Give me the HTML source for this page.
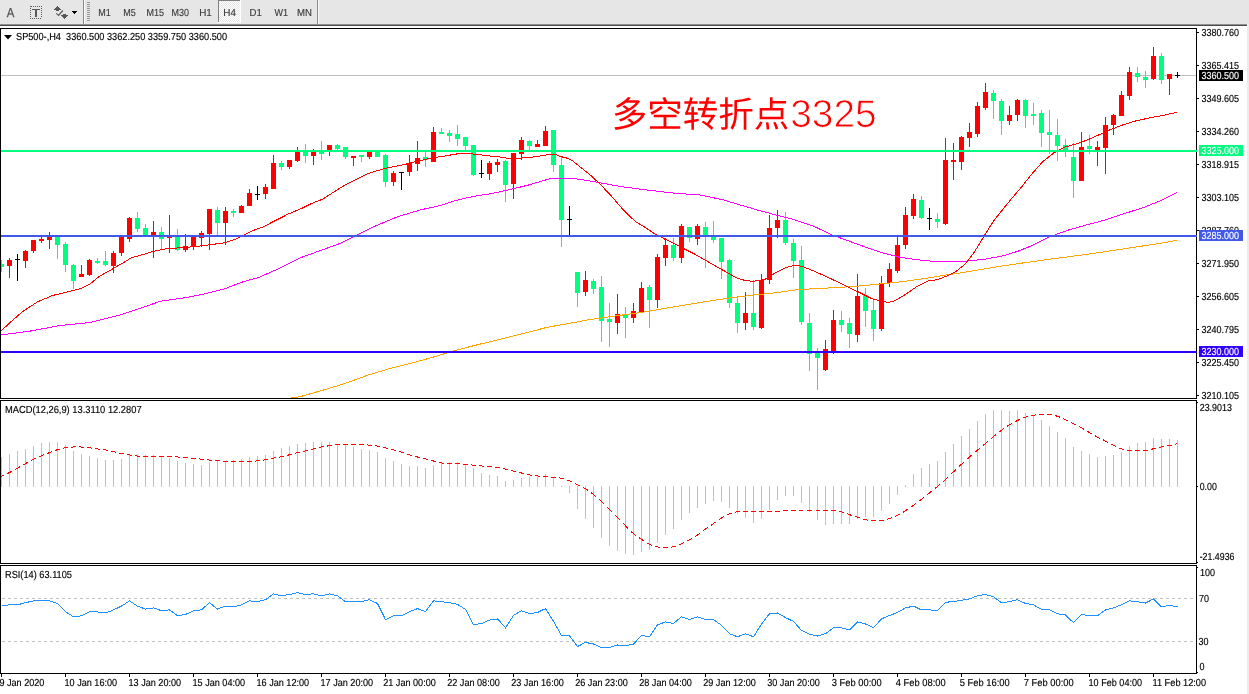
<!DOCTYPE html>
<html><head><meta charset="utf-8"><title>SP500-,H4</title>
<style>
html,body{margin:0;padding:0;background:#fff;width:1249px;height:694px;overflow:hidden;font-family:"Liberation Sans",sans-serif}
svg text{font-family:"Liberation Sans",sans-serif}
</style></head><body>
<svg width="1249" height="694" viewBox="0 0 1249 694" style="position:absolute;left:0;top:0;will-change:transform;text-rendering:geometricPrecision;font-family:'Liberation Sans',sans-serif" shape-rendering="crispEdges">
<defs><pattern id="chk" width="2" height="2" patternUnits="userSpaceOnUse"><rect width="2" height="2" fill="#ffffff"/><rect width="1" height="1" fill="#e6e6e6"/><rect x="1" y="1" width="1" height="1" fill="#e6e6e6"/></pattern>
<clipPath id="cm"><rect x="1" y="29" width="1195" height="369"/></clipPath></defs>
<rect x="0" y="0" width="1249" height="24" fill="#e6e6e6"/>
<rect x="0" y="24" width="1247" height="1" fill="#909090"/>
<rect x="0" y="25" width="1247" height="1" fill="#4c4c4c"/>
<rect x="0" y="26" width="1249" height="668" fill="#ffffff"/>
<rect x="1247" y="24" width="2" height="670" fill="#ececec"/>
<text x="6.8" y="16.9" font-size="13" fill="#555" stroke="#555" stroke-width="0.3" textLength="7.6" lengthAdjust="spacingAndGlyphs" shape-rendering="auto">A</text>
<rect x="30" y="18" width="1" height="1" fill="#5a5a5a"/>
<rect x="32" y="18" width="1" height="1" fill="#5a5a5a"/>
<rect x="34" y="18" width="1" height="1" fill="#5a5a5a"/>
<rect x="36" y="18" width="1" height="1" fill="#5a5a5a"/>
<rect x="38" y="18" width="1" height="1" fill="#5a5a5a"/>
<rect x="40" y="18" width="1" height="1" fill="#5a5a5a"/>
<rect x="33" y="6" width="1" height="1" fill="#5a5a5a"/>
<rect x="35" y="6" width="1" height="1" fill="#5a5a5a"/>
<rect x="37" y="6" width="1" height="1" fill="#5a5a5a"/>
<rect x="39" y="6" width="1" height="1" fill="#5a5a5a"/>
<rect x="41" y="6" width="1" height="1" fill="#5a5a5a"/>
<rect x="30" y="6" width="2" height="1" fill="#5a5a5a"/>
<rect x="30" y="8" width="1" height="1" fill="#5a5a5a"/>
<rect x="41" y="8" width="1" height="1" fill="#5a5a5a"/>
<rect x="30" y="10" width="1" height="1" fill="#5a5a5a"/>
<rect x="41" y="10" width="1" height="1" fill="#5a5a5a"/>
<rect x="30" y="12" width="1" height="1" fill="#5a5a5a"/>
<rect x="41" y="12" width="1" height="1" fill="#5a5a5a"/>
<rect x="30" y="14" width="1" height="1" fill="#5a5a5a"/>
<rect x="41" y="14" width="1" height="1" fill="#5a5a5a"/>
<rect x="30" y="16" width="1" height="1" fill="#5a5a5a"/>
<rect x="41" y="16" width="1" height="1" fill="#5a5a5a"/>
<rect x="32" y="9" width="8" height="1" fill="#5a5a5a"/>
<rect x="35" y="9" width="2" height="8" fill="#5a5a5a"/>
<rect x="57" y="6" width="1" height="1" fill="#585858"/>
<rect x="56" y="7" width="3" height="1" fill="#585858"/>
<rect x="55" y="8" width="5" height="1" fill="#585858"/>
<rect x="54" y="9" width="7" height="1" fill="#585858"/>
<rect x="56" y="10" width="3" height="1" fill="#585858"/>
<rect x="63" y="14" width="3" height="1" fill="#585858"/>
<rect x="61" y="15" width="7" height="1" fill="#585858"/>
<rect x="62" y="16" width="5" height="1" fill="#585858"/>
<rect x="63" y="17" width="3" height="1" fill="#585858"/>
<rect x="64" y="18" width="1" height="1" fill="#585858"/>
<polyline points="56.3,13.4 58.6,15.4 62.9,10.5" fill="none" stroke="#585858" stroke-width="1.2" shape-rendering="auto"/>
<rect x="72" y="11" width="5" height="1" fill="#000"/>
<rect x="73" y="12" width="3" height="1" fill="#000"/>
<rect x="74" y="13" width="1" height="1" fill="#000"/>
<rect x="83" y="0" width="1" height="24" fill="#8c8c8c"/>
<rect x="84" y="0" width="1" height="24" fill="#f8f8f8"/>
<rect x="87" y="2" width="3" height="1" fill="#969696"/>
<rect x="87" y="4" width="3" height="1" fill="#969696"/>
<rect x="87" y="6" width="3" height="1" fill="#969696"/>
<rect x="87" y="8" width="3" height="1" fill="#969696"/>
<rect x="87" y="10" width="3" height="1" fill="#969696"/>
<rect x="87" y="12" width="3" height="1" fill="#969696"/>
<rect x="87" y="14" width="3" height="1" fill="#969696"/>
<rect x="87" y="16" width="3" height="1" fill="#969696"/>
<rect x="87" y="18" width="3" height="1" fill="#969696"/>
<rect x="87" y="20" width="3" height="1" fill="#969696"/>
<rect x="218" y="0" width="23" height="23" fill="url(#chk)"/>
<rect x="218" y="0" width="22" height="1" fill="#808080"/>
<rect x="218" y="0" width="1" height="22" fill="#808080"/>
<rect x="240" y="0" width="1" height="23" fill="#ffffff"/>
<rect x="218" y="22" width="23" height="1" fill="#ffffff"/>
<text x="98.3" y="16.0" fill="#3c3c3c" stroke="#3c3c3c" stroke-width="0.15" font-size="10.2" textLength="12.50" lengthAdjust="spacingAndGlyphs" text-anchor="start" xml:space="preserve">M1</text>
<text x="123.3" y="16.0" fill="#3c3c3c" stroke="#3c3c3c" stroke-width="0.15" font-size="10.2" textLength="12.50" lengthAdjust="spacingAndGlyphs" text-anchor="start" xml:space="preserve">M5</text>
<text x="146.4" y="16.0" fill="#3c3c3c" stroke="#3c3c3c" stroke-width="0.15" font-size="10.2" textLength="17.51" lengthAdjust="spacingAndGlyphs" text-anchor="start" xml:space="preserve">M15</text>
<text x="171.4" y="16.0" fill="#3c3c3c" stroke="#3c3c3c" stroke-width="0.15" font-size="10.2" textLength="17.51" lengthAdjust="spacingAndGlyphs" text-anchor="start" xml:space="preserve">M30</text>
<text x="199.2" y="16.0" fill="#3c3c3c" stroke="#3c3c3c" stroke-width="0.15" font-size="10.2" textLength="12.66" lengthAdjust="spacingAndGlyphs" text-anchor="start" xml:space="preserve">H1</text>
<text x="223.3" y="16.0" fill="#3c3c3c" stroke="#3c3c3c" stroke-width="0.15" font-size="10.2" textLength="12.66" lengthAdjust="spacingAndGlyphs" text-anchor="start" xml:space="preserve">H4</text>
<text x="249.6" y="16.0" fill="#3c3c3c" stroke="#3c3c3c" stroke-width="0.15" font-size="10.2" textLength="12.27" lengthAdjust="spacingAndGlyphs" text-anchor="start" xml:space="preserve">D1</text>
<text x="274.4" y="16.0" fill="#3c3c3c" stroke="#3c3c3c" stroke-width="0.15" font-size="10.2" textLength="13.50" lengthAdjust="spacingAndGlyphs" text-anchor="start" xml:space="preserve">W1</text>
<text x="297.0" y="16.0" fill="#3c3c3c" stroke="#3c3c3c" stroke-width="0.15" font-size="10.2" textLength="14.93" lengthAdjust="spacingAndGlyphs" text-anchor="start" xml:space="preserve">MN</text>
<rect x="317" y="0" width="1" height="24" fill="#8c8c8c"/>
<rect x="318" y="0" width="1" height="24" fill="#f8f8f8"/>
<rect x="0" y="28" width="1197" height="1" fill="#000000"/>
<rect x="0" y="28" width="1" height="371" fill="#000000"/>
<rect x="0" y="398" width="1197" height="1" fill="#000000"/>
<rect x="1196" y="28" width="1" height="371" fill="#000000"/>
<rect x="0" y="400" width="1197" height="1" fill="#000000"/>
<rect x="0" y="400" width="1" height="164" fill="#000000"/>
<rect x="0" y="563" width="1197" height="1" fill="#000000"/>
<rect x="1196" y="400" width="1" height="164" fill="#000000"/>
<rect x="0" y="565" width="1197" height="1" fill="#000000"/>
<rect x="0" y="565" width="1" height="109" fill="#000000"/>
<rect x="0" y="673" width="1197" height="1" fill="#000000"/>
<rect x="1196" y="565" width="1" height="109" fill="#000000"/>
<g clip-path="url(#cm)">
<rect x="1" y="75" width="1195" height="1" fill="#c0c0c0"/>
<rect x="1" y="260" width="1" height="12" fill="#00ff7f"/>
<rect x="-1" y="264" width="5" height="3" fill="#00ff7f"/>
<rect x="9" y="258" width="1" height="20" fill="#ff0000"/>
<rect x="7" y="260" width="5" height="6" fill="#ff0000"/>
<rect x="17" y="254" width="1" height="27" fill="#000000"/>
<rect x="15" y="259" width="5" height="1" fill="#000000"/>
<rect x="25" y="250" width="1" height="18" fill="#ff0000"/>
<rect x="23" y="251" width="5" height="10" fill="#ff0000"/>
<rect x="33" y="240" width="1" height="13" fill="#ff0000"/>
<rect x="31" y="240" width="5" height="11" fill="#ff0000"/>
<rect x="41" y="237" width="1" height="6" fill="#ff0000"/>
<rect x="39" y="239" width="5" height="2" fill="#ff0000"/>
<rect x="49" y="232" width="1" height="17" fill="#ff0000"/>
<rect x="47" y="236" width="5" height="4" fill="#ff0000"/>
<rect x="57" y="236" width="1" height="23" fill="#00ff7f"/>
<rect x="55" y="236" width="5" height="9" fill="#00ff7f"/>
<rect x="65" y="242" width="1" height="30" fill="#00ff7f"/>
<rect x="63" y="244" width="5" height="21" fill="#00ff7f"/>
<rect x="73" y="264" width="1" height="25" fill="#00ff7f"/>
<rect x="71" y="265" width="5" height="16" fill="#00ff7f"/>
<rect x="81" y="265" width="1" height="12" fill="#ff0000"/>
<rect x="79" y="274" width="5" height="3" fill="#ff0000"/>
<rect x="89" y="259" width="1" height="17" fill="#ff0000"/>
<rect x="87" y="260" width="5" height="15" fill="#ff0000"/>
<rect x="97" y="258" width="1" height="6" fill="#00ff7f"/>
<rect x="95" y="261" width="5" height="2" fill="#00ff7f"/>
<rect x="105" y="251" width="1" height="15" fill="#00ff7f"/>
<rect x="103" y="261" width="5" height="4" fill="#00ff7f"/>
<rect x="113" y="251" width="1" height="22" fill="#ff0000"/>
<rect x="111" y="253" width="5" height="13" fill="#ff0000"/>
<rect x="121" y="236" width="1" height="20" fill="#ff0000"/>
<rect x="119" y="236" width="5" height="17" fill="#ff0000"/>
<rect x="129" y="217" width="1" height="25" fill="#ff0000"/>
<rect x="127" y="218" width="5" height="21" fill="#ff0000"/>
<rect x="137" y="212" width="1" height="20" fill="#00ff7f"/>
<rect x="135" y="218" width="5" height="11" fill="#00ff7f"/>
<rect x="145" y="224" width="1" height="12" fill="#00ff7f"/>
<rect x="143" y="228" width="5" height="8" fill="#00ff7f"/>
<rect x="153" y="221" width="1" height="37" fill="#ff0000"/>
<rect x="151" y="232" width="5" height="4" fill="#ff0000"/>
<rect x="161" y="227" width="1" height="22" fill="#00ff7f"/>
<rect x="159" y="232" width="5" height="7" fill="#00ff7f"/>
<rect x="169" y="215" width="1" height="38" fill="#ff0000"/>
<rect x="167" y="236" width="5" height="2" fill="#ff0000"/>
<rect x="177" y="229" width="1" height="22" fill="#00ff7f"/>
<rect x="175" y="237" width="5" height="13" fill="#00ff7f"/>
<rect x="185" y="234" width="1" height="18" fill="#ff0000"/>
<rect x="183" y="246" width="5" height="4" fill="#ff0000"/>
<rect x="193" y="236" width="1" height="14" fill="#ff0000"/>
<rect x="191" y="236" width="5" height="11" fill="#ff0000"/>
<rect x="201" y="231" width="1" height="16" fill="#ff0000"/>
<rect x="199" y="233" width="5" height="5" fill="#ff0000"/>
<rect x="209" y="209" width="1" height="41" fill="#ff0000"/>
<rect x="207" y="209" width="5" height="25" fill="#ff0000"/>
<rect x="217" y="207" width="1" height="28" fill="#00ff7f"/>
<rect x="215" y="210" width="5" height="13" fill="#00ff7f"/>
<rect x="225" y="207" width="1" height="38" fill="#ff0000"/>
<rect x="223" y="211" width="5" height="12" fill="#ff0000"/>
<rect x="233" y="209" width="1" height="8" fill="#00ff7f"/>
<rect x="231" y="211" width="5" height="2" fill="#00ff7f"/>
<rect x="241" y="205" width="1" height="8" fill="#ff0000"/>
<rect x="239" y="206" width="5" height="7" fill="#ff0000"/>
<rect x="249" y="189" width="1" height="17" fill="#ff0000"/>
<rect x="247" y="193" width="5" height="13" fill="#ff0000"/>
<rect x="257" y="186" width="1" height="14" fill="#000000"/>
<rect x="255" y="194" width="5" height="1" fill="#000000"/>
<rect x="265" y="184" width="1" height="15" fill="#ff0000"/>
<rect x="263" y="187" width="5" height="7" fill="#ff0000"/>
<rect x="273" y="155" width="1" height="34" fill="#ff0000"/>
<rect x="271" y="163" width="5" height="26" fill="#ff0000"/>
<rect x="281" y="161" width="1" height="9" fill="#00ff7f"/>
<rect x="279" y="163" width="5" height="4" fill="#00ff7f"/>
<rect x="289" y="160" width="1" height="9" fill="#ff0000"/>
<rect x="287" y="160" width="5" height="7" fill="#ff0000"/>
<rect x="297" y="147" width="1" height="15" fill="#ff0000"/>
<rect x="295" y="152" width="5" height="9" fill="#ff0000"/>
<rect x="305" y="144" width="1" height="19" fill="#00ff7f"/>
<rect x="303" y="150" width="5" height="6" fill="#00ff7f"/>
<rect x="313" y="149" width="1" height="16" fill="#ff0000"/>
<rect x="311" y="152" width="5" height="4" fill="#ff0000"/>
<rect x="321" y="141" width="1" height="19" fill="#00ff7f"/>
<rect x="319" y="150" width="5" height="4" fill="#00ff7f"/>
<rect x="329" y="145" width="1" height="11" fill="#ff0000"/>
<rect x="327" y="145" width="5" height="5" fill="#ff0000"/>
<rect x="337" y="144" width="1" height="6" fill="#00ff7f"/>
<rect x="335" y="145" width="5" height="4" fill="#00ff7f"/>
<rect x="345" y="147" width="1" height="12" fill="#00ff7f"/>
<rect x="343" y="147" width="5" height="10" fill="#00ff7f"/>
<rect x="353" y="156" width="1" height="10" fill="#ff0000"/>
<rect x="351" y="156" width="5" height="2" fill="#ff0000"/>
<rect x="361" y="155" width="1" height="7" fill="#00ff7f"/>
<rect x="359" y="155" width="5" height="2" fill="#00ff7f"/>
<rect x="369" y="152" width="1" height="7" fill="#ff0000"/>
<rect x="367" y="152" width="5" height="5" fill="#ff0000"/>
<rect x="377" y="152" width="1" height="5" fill="#00ff7f"/>
<rect x="375" y="152" width="5" height="5" fill="#00ff7f"/>
<rect x="385" y="154" width="1" height="33" fill="#00ff7f"/>
<rect x="383" y="155" width="5" height="27" fill="#00ff7f"/>
<rect x="393" y="171" width="1" height="15" fill="#ff0000"/>
<rect x="391" y="173" width="5" height="9" fill="#ff0000"/>
<rect x="401" y="172" width="1" height="18" fill="#000000"/>
<rect x="399" y="172" width="5" height="1" fill="#000000"/>
<rect x="409" y="155" width="1" height="21" fill="#ff0000"/>
<rect x="407" y="163" width="5" height="9" fill="#ff0000"/>
<rect x="417" y="141" width="1" height="30" fill="#ff0000"/>
<rect x="415" y="158" width="5" height="6" fill="#ff0000"/>
<rect x="425" y="152" width="1" height="15" fill="#00ff7f"/>
<rect x="423" y="157" width="5" height="3" fill="#00ff7f"/>
<rect x="433" y="127" width="1" height="35" fill="#ff0000"/>
<rect x="431" y="132" width="5" height="30" fill="#ff0000"/>
<rect x="441" y="128" width="1" height="6" fill="#00ff7f"/>
<rect x="439" y="132" width="5" height="2" fill="#00ff7f"/>
<rect x="449" y="130" width="1" height="12" fill="#00ff7f"/>
<rect x="447" y="133" width="5" height="3" fill="#00ff7f"/>
<rect x="457" y="125" width="1" height="21" fill="#00ff7f"/>
<rect x="455" y="134" width="5" height="5" fill="#00ff7f"/>
<rect x="465" y="137" width="1" height="13" fill="#00ff7f"/>
<rect x="463" y="137" width="5" height="9" fill="#00ff7f"/>
<rect x="473" y="145" width="1" height="31" fill="#00ff7f"/>
<rect x="471" y="145" width="5" height="30" fill="#00ff7f"/>
<rect x="481" y="160" width="1" height="18" fill="#000000"/>
<rect x="479" y="173" width="5" height="1" fill="#000000"/>
<rect x="489" y="161" width="1" height="19" fill="#ff0000"/>
<rect x="487" y="163" width="5" height="11" fill="#ff0000"/>
<rect x="497" y="159" width="1" height="13" fill="#ff0000"/>
<rect x="495" y="162" width="5" height="3" fill="#ff0000"/>
<rect x="505" y="160" width="1" height="42" fill="#00ff7f"/>
<rect x="503" y="161" width="5" height="24" fill="#00ff7f"/>
<rect x="513" y="153" width="1" height="46" fill="#ff0000"/>
<rect x="511" y="153" width="5" height="31" fill="#ff0000"/>
<rect x="521" y="137" width="1" height="23" fill="#ff0000"/>
<rect x="519" y="140" width="5" height="14" fill="#ff0000"/>
<rect x="529" y="140" width="1" height="10" fill="#00ff7f"/>
<rect x="527" y="141" width="5" height="5" fill="#00ff7f"/>
<rect x="537" y="140" width="1" height="7" fill="#ff0000"/>
<rect x="535" y="144" width="5" height="3" fill="#ff0000"/>
<rect x="545" y="126" width="1" height="20" fill="#ff0000"/>
<rect x="543" y="131" width="5" height="15" fill="#ff0000"/>
<rect x="553" y="130" width="1" height="42" fill="#00ff7f"/>
<rect x="551" y="130" width="5" height="35" fill="#00ff7f"/>
<rect x="561" y="156" width="1" height="91" fill="#00ff7f"/>
<rect x="559" y="165" width="5" height="55" fill="#00ff7f"/>
<rect x="569" y="206" width="1" height="29" fill="#000000"/>
<rect x="567" y="219" width="5" height="1" fill="#000000"/>
<rect x="577" y="272" width="1" height="35" fill="#00ff7f"/>
<rect x="575" y="272" width="5" height="21" fill="#00ff7f"/>
<rect x="585" y="271" width="1" height="25" fill="#ff0000"/>
<rect x="583" y="280" width="5" height="12" fill="#ff0000"/>
<rect x="593" y="279" width="1" height="15" fill="#00ff7f"/>
<rect x="591" y="281" width="5" height="8" fill="#00ff7f"/>
<rect x="601" y="276" width="1" height="66" fill="#00ff7f"/>
<rect x="599" y="287" width="5" height="34" fill="#00ff7f"/>
<rect x="609" y="303" width="1" height="44" fill="#00ff7f"/>
<rect x="607" y="319" width="5" height="3" fill="#00ff7f"/>
<rect x="617" y="294" width="1" height="40" fill="#ff0000"/>
<rect x="615" y="314" width="5" height="9" fill="#ff0000"/>
<rect x="625" y="307" width="1" height="31" fill="#00ff7f"/>
<rect x="623" y="314" width="5" height="4" fill="#00ff7f"/>
<rect x="633" y="303" width="1" height="20" fill="#ff0000"/>
<rect x="631" y="311" width="5" height="7" fill="#ff0000"/>
<rect x="641" y="282" width="1" height="30" fill="#ff0000"/>
<rect x="639" y="288" width="5" height="24" fill="#ff0000"/>
<rect x="649" y="285" width="1" height="43" fill="#00ff7f"/>
<rect x="647" y="287" width="5" height="13" fill="#00ff7f"/>
<rect x="657" y="254" width="1" height="54" fill="#ff0000"/>
<rect x="655" y="257" width="5" height="43" fill="#ff0000"/>
<rect x="665" y="238" width="1" height="28" fill="#ff0000"/>
<rect x="663" y="245" width="5" height="13" fill="#ff0000"/>
<rect x="673" y="238" width="1" height="23" fill="#00ff7f"/>
<rect x="671" y="245" width="5" height="13" fill="#00ff7f"/>
<rect x="681" y="224" width="1" height="39" fill="#ff0000"/>
<rect x="679" y="226" width="5" height="32" fill="#ff0000"/>
<rect x="689" y="227" width="1" height="15" fill="#00ff7f"/>
<rect x="687" y="227" width="5" height="11" fill="#00ff7f"/>
<rect x="697" y="224" width="1" height="21" fill="#ff0000"/>
<rect x="695" y="226" width="5" height="13" fill="#ff0000"/>
<rect x="705" y="222" width="1" height="46" fill="#00ff7f"/>
<rect x="703" y="227" width="5" height="10" fill="#00ff7f"/>
<rect x="713" y="221" width="1" height="22" fill="#00ff7f"/>
<rect x="711" y="237" width="5" height="3" fill="#00ff7f"/>
<rect x="721" y="238" width="1" height="41" fill="#00ff7f"/>
<rect x="719" y="238" width="5" height="24" fill="#00ff7f"/>
<rect x="729" y="259" width="1" height="49" fill="#00ff7f"/>
<rect x="727" y="260" width="5" height="43" fill="#00ff7f"/>
<rect x="737" y="296" width="1" height="37" fill="#00ff7f"/>
<rect x="735" y="303" width="5" height="20" fill="#00ff7f"/>
<rect x="745" y="292" width="1" height="38" fill="#ff0000"/>
<rect x="743" y="313" width="5" height="10" fill="#ff0000"/>
<rect x="753" y="280" width="1" height="50" fill="#00ff7f"/>
<rect x="751" y="313" width="5" height="14" fill="#00ff7f"/>
<rect x="761" y="274" width="1" height="55" fill="#ff0000"/>
<rect x="759" y="280" width="5" height="48" fill="#ff0000"/>
<rect x="769" y="215" width="1" height="69" fill="#ff0000"/>
<rect x="767" y="228" width="5" height="52" fill="#ff0000"/>
<rect x="777" y="210" width="1" height="28" fill="#ff0000"/>
<rect x="775" y="220" width="5" height="8" fill="#ff0000"/>
<rect x="785" y="212" width="1" height="33" fill="#00ff7f"/>
<rect x="783" y="220" width="5" height="23" fill="#00ff7f"/>
<rect x="793" y="239" width="1" height="39" fill="#00ff7f"/>
<rect x="791" y="243" width="5" height="18" fill="#00ff7f"/>
<rect x="801" y="246" width="1" height="79" fill="#00ff7f"/>
<rect x="799" y="260" width="5" height="62" fill="#00ff7f"/>
<rect x="809" y="313" width="1" height="58" fill="#00ff7f"/>
<rect x="807" y="323" width="5" height="31" fill="#00ff7f"/>
<rect x="817" y="348" width="1" height="42" fill="#00ff7f"/>
<rect x="815" y="353" width="5" height="5" fill="#00ff7f"/>
<rect x="825" y="340" width="1" height="31" fill="#ff0000"/>
<rect x="823" y="349" width="5" height="21" fill="#ff0000"/>
<rect x="833" y="310" width="1" height="44" fill="#ff0000"/>
<rect x="831" y="320" width="5" height="31" fill="#ff0000"/>
<rect x="841" y="311" width="1" height="21" fill="#00ff7f"/>
<rect x="839" y="320" width="5" height="5" fill="#00ff7f"/>
<rect x="849" y="318" width="1" height="30" fill="#00ff7f"/>
<rect x="847" y="323" width="5" height="11" fill="#00ff7f"/>
<rect x="857" y="274" width="1" height="68" fill="#ff0000"/>
<rect x="855" y="296" width="5" height="39" fill="#ff0000"/>
<rect x="865" y="288" width="1" height="39" fill="#00ff7f"/>
<rect x="863" y="295" width="5" height="16" fill="#00ff7f"/>
<rect x="873" y="300" width="1" height="41" fill="#00ff7f"/>
<rect x="871" y="310" width="5" height="19" fill="#00ff7f"/>
<rect x="881" y="276" width="1" height="55" fill="#ff0000"/>
<rect x="879" y="283" width="5" height="46" fill="#ff0000"/>
<rect x="889" y="263" width="1" height="24" fill="#ff0000"/>
<rect x="887" y="269" width="5" height="14" fill="#ff0000"/>
<rect x="897" y="236" width="1" height="37" fill="#ff0000"/>
<rect x="895" y="245" width="5" height="26" fill="#ff0000"/>
<rect x="905" y="207" width="1" height="42" fill="#ff0000"/>
<rect x="903" y="215" width="5" height="30" fill="#ff0000"/>
<rect x="913" y="194" width="1" height="25" fill="#ff0000"/>
<rect x="911" y="199" width="5" height="17" fill="#ff0000"/>
<rect x="921" y="196" width="1" height="23" fill="#00ff7f"/>
<rect x="919" y="200" width="5" height="18" fill="#00ff7f"/>
<rect x="929" y="208" width="1" height="22" fill="#000000"/>
<rect x="927" y="218" width="5" height="1" fill="#000000"/>
<rect x="937" y="213" width="1" height="15" fill="#00ff7f"/>
<rect x="935" y="219" width="5" height="3" fill="#00ff7f"/>
<rect x="945" y="138" width="1" height="87" fill="#ff0000"/>
<rect x="943" y="160" width="5" height="64" fill="#ff0000"/>
<rect x="953" y="143" width="1" height="37" fill="#ff0000"/>
<rect x="951" y="160" width="5" height="2" fill="#ff0000"/>
<rect x="961" y="136" width="1" height="34" fill="#ff0000"/>
<rect x="959" y="137" width="5" height="25" fill="#ff0000"/>
<rect x="969" y="123" width="1" height="24" fill="#ff0000"/>
<rect x="967" y="132" width="5" height="6" fill="#ff0000"/>
<rect x="977" y="102" width="1" height="35" fill="#ff0000"/>
<rect x="975" y="106" width="5" height="28" fill="#ff0000"/>
<rect x="985" y="83" width="1" height="27" fill="#ff0000"/>
<rect x="983" y="92" width="5" height="16" fill="#ff0000"/>
<rect x="993" y="90" width="1" height="29" fill="#00ff7f"/>
<rect x="991" y="93" width="5" height="8" fill="#00ff7f"/>
<rect x="1001" y="99" width="1" height="36" fill="#00ff7f"/>
<rect x="999" y="101" width="5" height="20" fill="#00ff7f"/>
<rect x="1009" y="106" width="1" height="19" fill="#ff0000"/>
<rect x="1007" y="115" width="5" height="6" fill="#ff0000"/>
<rect x="1017" y="99" width="1" height="22" fill="#ff0000"/>
<rect x="1015" y="100" width="5" height="15" fill="#ff0000"/>
<rect x="1025" y="99" width="1" height="29" fill="#00ff7f"/>
<rect x="1023" y="100" width="5" height="16" fill="#00ff7f"/>
<rect x="1033" y="103" width="1" height="22" fill="#00ff7f"/>
<rect x="1031" y="114" width="5" height="2" fill="#00ff7f"/>
<rect x="1041" y="110" width="1" height="37" fill="#00ff7f"/>
<rect x="1039" y="113" width="5" height="20" fill="#00ff7f"/>
<rect x="1049" y="110" width="1" height="44" fill="#00ff7f"/>
<rect x="1047" y="132" width="5" height="3" fill="#00ff7f"/>
<rect x="1057" y="119" width="1" height="42" fill="#00ff7f"/>
<rect x="1055" y="135" width="5" height="11" fill="#00ff7f"/>
<rect x="1065" y="139" width="1" height="18" fill="#00ff7f"/>
<rect x="1063" y="145" width="5" height="5" fill="#00ff7f"/>
<rect x="1073" y="143" width="1" height="55" fill="#00ff7f"/>
<rect x="1071" y="157" width="5" height="24" fill="#00ff7f"/>
<rect x="1081" y="132" width="1" height="49" fill="#ff0000"/>
<rect x="1079" y="147" width="5" height="34" fill="#ff0000"/>
<rect x="1089" y="135" width="1" height="19" fill="#00ff7f"/>
<rect x="1087" y="146" width="5" height="3" fill="#00ff7f"/>
<rect x="1097" y="141" width="1" height="25" fill="#ff0000"/>
<rect x="1095" y="147" width="5" height="4" fill="#ff0000"/>
<rect x="1105" y="117" width="1" height="57" fill="#ff0000"/>
<rect x="1103" y="125" width="5" height="23" fill="#ff0000"/>
<rect x="1113" y="114" width="1" height="21" fill="#ff0000"/>
<rect x="1111" y="115" width="5" height="10" fill="#ff0000"/>
<rect x="1121" y="91" width="1" height="25" fill="#ff0000"/>
<rect x="1119" y="95" width="5" height="21" fill="#ff0000"/>
<rect x="1129" y="67" width="1" height="33" fill="#ff0000"/>
<rect x="1127" y="72" width="5" height="24" fill="#ff0000"/>
<rect x="1137" y="67" width="1" height="15" fill="#00ff7f"/>
<rect x="1135" y="73" width="5" height="4" fill="#00ff7f"/>
<rect x="1145" y="71" width="1" height="17" fill="#00ff7f"/>
<rect x="1143" y="77" width="5" height="3" fill="#00ff7f"/>
<rect x="1153" y="47" width="1" height="33" fill="#ff0000"/>
<rect x="1151" y="56" width="5" height="23" fill="#ff0000"/>
<rect x="1161" y="53" width="1" height="31" fill="#00ff7f"/>
<rect x="1159" y="56" width="5" height="24" fill="#00ff7f"/>
<rect x="1169" y="74" width="1" height="21" fill="#ff0000"/>
<rect x="1167" y="74" width="5" height="5" fill="#ff0000"/>
<rect x="1177" y="72" width="1" height="6" fill="#000000"/>
<rect x="1175" y="75" width="5" height="1" fill="#000000"/>
<polyline points="284.0,399.0 300.0,396.7 322.5,390.3 345.0,383.5 367.4,375.3 390.0,368.5 412.4,363.0 435.0,356.6 457.4,349.8 479.8,344.2 502.3,338.6 524.8,333.0 547.3,327.3 569.8,323.3 587.4,320.0 606.9,317.1 626.3,314.5 645.8,311.8 665.2,308.3 684.6,305.0 704.1,301.9 728.0,298.2 750.0,295.5 780.0,292.2 798.0,289.6 816.0,288.6 834.0,287.7 852.0,286.6 870.0,285.0 888.0,283.2 906.0,281.2 924.0,278.6 947.0,274.9 965.7,272.1 984.4,268.9 1003.1,265.9 1021.9,263.1 1049.9,259.2 1087.3,254.3 1124.8,248.7 1162.3,243.0 1177.0,240.3" fill="none" stroke="#ffa500" stroke-width="1"/>
<polyline points="1.0,335.0 30.0,331.1 60.0,325.5 90.0,322.5 120.0,315.0 142.4,307.5 161.0,301.1 187.3,297.4 206.0,293.6 224.8,288.7 243.5,281.6 258.5,277.5 277.3,269.3 299.7,258.0 322.5,249.8 341.2,243.0 356.2,235.5 375.0,226.2 397.4,216.8 420.0,210.0 440.0,205.6 452.8,201.3 465.6,198.1 478.4,195.6 491.2,193.7 504.1,190.8 516.9,187.9 529.7,184.7 542.5,180.9 551.5,178.3 573.2,178.3 580.9,179.6 591.2,181.2 600.0,182.8 622.5,186.8 645.0,189.8 675.0,193.2 701.2,195.1 723.6,200.0 742.4,205.6 757.4,210.0 776.0,215.0 794.8,219.8 813.6,226.2 832.3,235.0 851.0,241.8 869.8,248.7 884.8,253.5 899.7,257.3 918.8,259.9 933.8,261.4 950.7,261.8 965.7,261.2 984.4,259.3 1003.1,255.8 1018.1,251.2 1032.0,245.6 1049.9,236.7 1068.6,230.0 1087.3,224.7 1106.0,219.8 1124.8,213.5 1143.5,207.5 1162.3,200.0 1177.0,192.3" fill="none" stroke="#ff00ff" stroke-width="1"/>
<polyline points="1.0,331.0 11.0,321.7 22.5,311.6 37.5,301.9 52.5,295.5 67.4,291.9 80.6,288.5 90.0,284.0 98.6,276.8 112.5,269.0 123.6,262.5 131.0,258.0 142.0,254.8 153.6,251.3 165.0,249.0 180.0,247.8 195.0,246.6 209.0,244.9 225.0,242.7 235.0,239.5 245.0,234.4 253.5,230.4 263.0,227.0 272.5,222.0 288.4,214.0 301.0,208.7 312.0,203.3 322.5,199.2 345.0,185.0 367.4,173.7 386.2,168.1 405.0,164.4 420.0,160.6 434.9,157.2 440.0,156.9 452.8,154.6 463.0,153.0 469.5,153.6 478.4,154.6 488.7,155.9 497.6,156.5 506.6,158.2 511.7,158.4 519.4,158.2 529.7,157.4 539.9,156.1 550.2,154.3 555.3,154.3 560.4,156.5 568.1,158.4 572.0,160.4 578.4,165.5 584.8,170.6 591.2,175.7 600.0,184.1 611.2,195.8 622.5,209.0 628.3,215.0 636.0,221.8 645.8,227.8 655.5,234.4 665.2,239.3 675.0,244.0 684.6,249.0 694.4,253.9 704.1,259.5 713.8,265.0 723.5,270.5 729.7,274.0 737.5,278.3 745.0,280.4 753.0,281.4 764.7,279.5 774.4,273.4 784.2,268.2 793.9,265.4 801.6,266.2 811.4,270.0 825.0,276.0 836.6,281.4 848.3,287.0 860.0,292.8 871.6,298.5 880.0,301.0 888.1,302.4 895.3,300.6 906.1,294.0 916.9,286.5 927.7,281.0 937.6,279.6 947.0,275.9 956.3,271.2 965.7,263.7 975.0,251.0 984.4,235.6 993.8,220.6 1003.1,209.0 1012.5,197.5 1021.9,186.5 1031.0,175.0 1042.4,162.0 1053.6,153.0 1064.9,147.0 1076.0,144.0 1087.3,140.0 1098.6,135.0 1109.8,129.9 1121.0,125.5 1136.5,120.7 1152.6,117.3 1164.7,115.1 1177.0,112.2" fill="none" stroke="#ff0000" stroke-width="1"/>
</g>
<rect x="1" y="150" width="1196" height="2" fill="#00ff7f"/>
<rect x="1" y="235" width="1196" height="2" fill="#4158e8"/>
<rect x="1" y="351" width="1196" height="2" fill="#3000ff"/>
<g fill="#ff0000" shape-rendering="auto">
<text x="611.7" y="126.6" font-size="35.52" fill="#ff0000" style="font-family:'Liberation Sans','Noto Sans CJK SC',sans-serif">多空转折点</text>
<text x="790.3" y="127" font-size="38.8" fill="#ff0000" stroke="#ffffff" stroke-width="0.8">3325</text>
</g>
<polygon points="4,35 12,35 8,39.5" fill="#000" shape-rendering="auto"/>
<text x="16" y="40.0" fill="#000" stroke="#000" stroke-width="0.15" font-size="10.2" textLength="211.04" lengthAdjust="spacingAndGlyphs" text-anchor="start" xml:space="preserve">SP500-,H4  3360.500 3362.250 3359.750 3360.500</text>
<rect x="1197" y="32" width="2" height="1" fill="#000000"/>
<text x="1201.4" y="36.0" fill="#000" stroke="#000" stroke-width="0.15" font-size="10.2" textLength="37.54" lengthAdjust="spacingAndGlyphs" text-anchor="start" xml:space="preserve">3380.760</text>
<rect x="1197" y="65" width="2" height="1" fill="#000000"/>
<text x="1201.4" y="69.0" fill="#000" stroke="#000" stroke-width="0.15" font-size="10.2" textLength="37.54" lengthAdjust="spacingAndGlyphs" text-anchor="start" xml:space="preserve">3365.415</text>
<rect x="1197" y="98" width="2" height="1" fill="#000000"/>
<text x="1201.4" y="102.0" fill="#000" stroke="#000" stroke-width="0.15" font-size="10.2" textLength="37.54" lengthAdjust="spacingAndGlyphs" text-anchor="start" xml:space="preserve">3349.605</text>
<rect x="1197" y="131" width="2" height="1" fill="#000000"/>
<text x="1201.4" y="135.0" fill="#000" stroke="#000" stroke-width="0.15" font-size="10.2" textLength="37.54" lengthAdjust="spacingAndGlyphs" text-anchor="start" xml:space="preserve">3334.260</text>
<rect x="1197" y="164" width="2" height="1" fill="#000000"/>
<text x="1201.4" y="168.0" fill="#000" stroke="#000" stroke-width="0.15" font-size="10.2" textLength="37.54" lengthAdjust="spacingAndGlyphs" text-anchor="start" xml:space="preserve">3318.915</text>
<rect x="1197" y="197" width="2" height="1" fill="#000000"/>
<text x="1201.4" y="201.0" fill="#000" stroke="#000" stroke-width="0.15" font-size="10.2" textLength="37.54" lengthAdjust="spacingAndGlyphs" text-anchor="start" xml:space="preserve">3303.105</text>
<rect x="1197" y="230" width="2" height="1" fill="#000000"/>
<text x="1201.4" y="234.0" fill="#000" stroke="#000" stroke-width="0.15" font-size="10.2" textLength="37.54" lengthAdjust="spacingAndGlyphs" text-anchor="start" xml:space="preserve">3287.760</text>
<rect x="1197" y="263" width="2" height="1" fill="#000000"/>
<text x="1201.4" y="267.0" fill="#000" stroke="#000" stroke-width="0.15" font-size="10.2" textLength="37.54" lengthAdjust="spacingAndGlyphs" text-anchor="start" xml:space="preserve">3271.950</text>
<rect x="1197" y="296" width="2" height="1" fill="#000000"/>
<text x="1201.4" y="300.0" fill="#000" stroke="#000" stroke-width="0.15" font-size="10.2" textLength="37.54" lengthAdjust="spacingAndGlyphs" text-anchor="start" xml:space="preserve">3256.605</text>
<rect x="1197" y="329" width="2" height="1" fill="#000000"/>
<text x="1201.4" y="333.0" fill="#000" stroke="#000" stroke-width="0.15" font-size="10.2" textLength="37.54" lengthAdjust="spacingAndGlyphs" text-anchor="start" xml:space="preserve">3240.795</text>
<rect x="1197" y="362" width="2" height="1" fill="#000000"/>
<text x="1201.4" y="366.0" fill="#000" stroke="#000" stroke-width="0.15" font-size="10.2" textLength="37.54" lengthAdjust="spacingAndGlyphs" text-anchor="start" xml:space="preserve">3225.450</text>
<rect x="1197" y="395" width="2" height="1" fill="#000000"/>
<text x="1201.4" y="399.0" fill="#000" stroke="#000" stroke-width="0.15" font-size="10.2" textLength="37.54" lengthAdjust="spacingAndGlyphs" text-anchor="start" xml:space="preserve">3210.105</text>
<rect x="1199" y="70" width="44" height="11" fill="#000000"/>
<text x="1201.4" y="79.0" fill="#fff" stroke="#fff" stroke-width="0.15" font-size="10.2" textLength="37.54" lengthAdjust="spacingAndGlyphs" text-anchor="start" xml:space="preserve">3360.500</text>
<rect x="1199" y="145" width="44" height="11" fill="#00ff7f"/>
<text x="1201.4" y="154.0" fill="#fff" stroke="#fff" stroke-width="0.15" font-size="10.2" textLength="37.54" lengthAdjust="spacingAndGlyphs" text-anchor="start" xml:space="preserve">3325.000</text>
<rect x="1199" y="230" width="44" height="11" fill="#4158e8"/>
<text x="1201.4" y="239.0" fill="#fff" stroke="#fff" stroke-width="0.15" font-size="10.2" textLength="37.54" lengthAdjust="spacingAndGlyphs" text-anchor="start" xml:space="preserve">3285.000</text>
<rect x="1199" y="346" width="44" height="11" fill="#3000ff"/>
<text x="1201.4" y="355.0" fill="#fff" stroke="#fff" stroke-width="0.15" font-size="10.2" textLength="37.54" lengthAdjust="spacingAndGlyphs" text-anchor="start" xml:space="preserve">3230.000</text>
<text x="5" y="413.0" fill="#000" stroke="#000" stroke-width="0.15" font-size="10.2" textLength="136.57" lengthAdjust="spacingAndGlyphs" text-anchor="start" xml:space="preserve">MACD(12,26,9) 13.3110 12.2807</text>
<rect x="1" y="457" width="1" height="30" fill="#c0c0c0"/>
<rect x="9" y="454" width="1" height="33" fill="#c0c0c0"/>
<rect x="17" y="451" width="1" height="36" fill="#c0c0c0"/>
<rect x="25" y="449" width="1" height="38" fill="#c0c0c0"/>
<rect x="33" y="446" width="1" height="41" fill="#c0c0c0"/>
<rect x="41" y="443" width="1" height="44" fill="#c0c0c0"/>
<rect x="49" y="442" width="1" height="45" fill="#c0c0c0"/>
<rect x="57" y="442" width="1" height="45" fill="#c0c0c0"/>
<rect x="65" y="445" width="1" height="42" fill="#c0c0c0"/>
<rect x="73" y="451" width="1" height="36" fill="#c0c0c0"/>
<rect x="81" y="454" width="1" height="33" fill="#c0c0c0"/>
<rect x="89" y="456" width="1" height="31" fill="#c0c0c0"/>
<rect x="97" y="458" width="1" height="29" fill="#c0c0c0"/>
<rect x="105" y="460" width="1" height="27" fill="#c0c0c0"/>
<rect x="113" y="460" width="1" height="27" fill="#c0c0c0"/>
<rect x="121" y="459" width="1" height="28" fill="#c0c0c0"/>
<rect x="129" y="455" width="1" height="32" fill="#c0c0c0"/>
<rect x="137" y="454" width="1" height="33" fill="#c0c0c0"/>
<rect x="145" y="455" width="1" height="32" fill="#c0c0c0"/>
<rect x="153" y="455" width="1" height="32" fill="#c0c0c0"/>
<rect x="161" y="456" width="1" height="31" fill="#c0c0c0"/>
<rect x="169" y="458" width="1" height="29" fill="#c0c0c0"/>
<rect x="177" y="461" width="1" height="26" fill="#c0c0c0"/>
<rect x="185" y="463" width="1" height="24" fill="#c0c0c0"/>
<rect x="193" y="464" width="1" height="23" fill="#c0c0c0"/>
<rect x="201" y="465" width="1" height="22" fill="#c0c0c0"/>
<rect x="209" y="462" width="1" height="25" fill="#c0c0c0"/>
<rect x="217" y="461" width="1" height="26" fill="#c0c0c0"/>
<rect x="225" y="461" width="1" height="26" fill="#c0c0c0"/>
<rect x="233" y="460" width="1" height="27" fill="#c0c0c0"/>
<rect x="241" y="459" width="1" height="28" fill="#c0c0c0"/>
<rect x="249" y="457" width="1" height="30" fill="#c0c0c0"/>
<rect x="257" y="456" width="1" height="31" fill="#c0c0c0"/>
<rect x="265" y="455" width="1" height="32" fill="#c0c0c0"/>
<rect x="273" y="451" width="1" height="36" fill="#c0c0c0"/>
<rect x="281" y="448" width="1" height="39" fill="#c0c0c0"/>
<rect x="289" y="446" width="1" height="41" fill="#c0c0c0"/>
<rect x="297" y="444" width="1" height="43" fill="#c0c0c0"/>
<rect x="305" y="443" width="1" height="44" fill="#c0c0c0"/>
<rect x="313" y="442" width="1" height="45" fill="#c0c0c0"/>
<rect x="321" y="442" width="1" height="45" fill="#c0c0c0"/>
<rect x="329" y="442" width="1" height="45" fill="#c0c0c0"/>
<rect x="337" y="444" width="1" height="43" fill="#c0c0c0"/>
<rect x="345" y="445" width="1" height="42" fill="#c0c0c0"/>
<rect x="353" y="447" width="1" height="40" fill="#c0c0c0"/>
<rect x="361" y="449" width="1" height="38" fill="#c0c0c0"/>
<rect x="369" y="450" width="1" height="37" fill="#c0c0c0"/>
<rect x="377" y="452" width="1" height="35" fill="#c0c0c0"/>
<rect x="385" y="458" width="1" height="29" fill="#c0c0c0"/>
<rect x="393" y="461" width="1" height="26" fill="#c0c0c0"/>
<rect x="401" y="464" width="1" height="23" fill="#c0c0c0"/>
<rect x="409" y="466" width="1" height="21" fill="#c0c0c0"/>
<rect x="417" y="466" width="1" height="21" fill="#c0c0c0"/>
<rect x="425" y="468" width="1" height="19" fill="#c0c0c0"/>
<rect x="433" y="465" width="1" height="22" fill="#c0c0c0"/>
<rect x="441" y="463" width="1" height="24" fill="#c0c0c0"/>
<rect x="449" y="462" width="1" height="25" fill="#c0c0c0"/>
<rect x="457" y="462" width="1" height="25" fill="#c0c0c0"/>
<rect x="465" y="464" width="1" height="23" fill="#c0c0c0"/>
<rect x="473" y="468" width="1" height="19" fill="#c0c0c0"/>
<rect x="481" y="473" width="1" height="14" fill="#c0c0c0"/>
<rect x="489" y="475" width="1" height="12" fill="#c0c0c0"/>
<rect x="497" y="476" width="1" height="11" fill="#c0c0c0"/>
<rect x="505" y="481" width="1" height="6" fill="#c0c0c0"/>
<rect x="513" y="480" width="1" height="7" fill="#c0c0c0"/>
<rect x="521" y="478" width="1" height="9" fill="#c0c0c0"/>
<rect x="529" y="477" width="1" height="10" fill="#c0c0c0"/>
<rect x="537" y="476" width="1" height="11" fill="#c0c0c0"/>
<rect x="545" y="474" width="1" height="13" fill="#c0c0c0"/>
<rect x="553" y="477" width="1" height="10" fill="#c0c0c0"/>
<rect x="561" y="486" width="1" height="1" fill="#c0c0c0"/>
<rect x="569" y="486" width="1" height="7" fill="#c0c0c0"/>
<rect x="577" y="486" width="1" height="23" fill="#c0c0c0"/>
<rect x="585" y="486" width="1" height="33" fill="#c0c0c0"/>
<rect x="593" y="486" width="1" height="42" fill="#c0c0c0"/>
<rect x="601" y="486" width="1" height="52" fill="#c0c0c0"/>
<rect x="609" y="486" width="1" height="60" fill="#c0c0c0"/>
<rect x="617" y="486" width="1" height="65" fill="#c0c0c0"/>
<rect x="625" y="486" width="1" height="68" fill="#c0c0c0"/>
<rect x="633" y="486" width="1" height="69" fill="#c0c0c0"/>
<rect x="641" y="486" width="1" height="66" fill="#c0c0c0"/>
<rect x="649" y="486" width="1" height="64" fill="#c0c0c0"/>
<rect x="657" y="486" width="1" height="57" fill="#c0c0c0"/>
<rect x="665" y="486" width="1" height="49" fill="#c0c0c0"/>
<rect x="673" y="486" width="1" height="43" fill="#c0c0c0"/>
<rect x="681" y="486" width="1" height="34" fill="#c0c0c0"/>
<rect x="689" y="486" width="1" height="27" fill="#c0c0c0"/>
<rect x="697" y="486" width="1" height="22" fill="#c0c0c0"/>
<rect x="705" y="486" width="1" height="18" fill="#c0c0c0"/>
<rect x="713" y="486" width="1" height="15" fill="#c0c0c0"/>
<rect x="721" y="486" width="1" height="16" fill="#c0c0c0"/>
<rect x="729" y="486" width="1" height="22" fill="#c0c0c0"/>
<rect x="737" y="486" width="1" height="28" fill="#c0c0c0"/>
<rect x="745" y="486" width="1" height="32" fill="#c0c0c0"/>
<rect x="753" y="486" width="1" height="37" fill="#c0c0c0"/>
<rect x="761" y="486" width="1" height="33" fill="#c0c0c0"/>
<rect x="769" y="486" width="1" height="24" fill="#c0c0c0"/>
<rect x="777" y="486" width="1" height="14" fill="#c0c0c0"/>
<rect x="785" y="486" width="1" height="10" fill="#c0c0c0"/>
<rect x="793" y="486" width="1" height="10" fill="#c0c0c0"/>
<rect x="801" y="486" width="1" height="17" fill="#c0c0c0"/>
<rect x="809" y="486" width="1" height="26" fill="#c0c0c0"/>
<rect x="817" y="486" width="1" height="34" fill="#c0c0c0"/>
<rect x="825" y="486" width="1" height="39" fill="#c0c0c0"/>
<rect x="833" y="486" width="1" height="38" fill="#c0c0c0"/>
<rect x="841" y="486" width="1" height="38" fill="#c0c0c0"/>
<rect x="849" y="486" width="1" height="38" fill="#c0c0c0"/>
<rect x="857" y="486" width="1" height="33" fill="#c0c0c0"/>
<rect x="865" y="486" width="1" height="31" fill="#c0c0c0"/>
<rect x="873" y="486" width="1" height="31" fill="#c0c0c0"/>
<rect x="881" y="486" width="1" height="25" fill="#c0c0c0"/>
<rect x="889" y="486" width="1" height="18" fill="#c0c0c0"/>
<rect x="897" y="486" width="1" height="9" fill="#c0c0c0"/>
<rect x="905" y="485" width="1" height="2" fill="#c0c0c0"/>
<rect x="913" y="474" width="1" height="13" fill="#c0c0c0"/>
<rect x="921" y="468" width="1" height="19" fill="#c0c0c0"/>
<rect x="929" y="464" width="1" height="23" fill="#c0c0c0"/>
<rect x="937" y="461" width="1" height="26" fill="#c0c0c0"/>
<rect x="945" y="452" width="1" height="35" fill="#c0c0c0"/>
<rect x="953" y="444" width="1" height="43" fill="#c0c0c0"/>
<rect x="961" y="436" width="1" height="51" fill="#c0c0c0"/>
<rect x="969" y="429" width="1" height="58" fill="#c0c0c0"/>
<rect x="977" y="421" width="1" height="66" fill="#c0c0c0"/>
<rect x="985" y="414" width="1" height="73" fill="#c0c0c0"/>
<rect x="993" y="410" width="1" height="77" fill="#c0c0c0"/>
<rect x="1001" y="410" width="1" height="77" fill="#c0c0c0"/>
<rect x="1009" y="411" width="1" height="76" fill="#c0c0c0"/>
<rect x="1017" y="410" width="1" height="77" fill="#c0c0c0"/>
<rect x="1025" y="413" width="1" height="74" fill="#c0c0c0"/>
<rect x="1033" y="415" width="1" height="72" fill="#c0c0c0"/>
<rect x="1041" y="420" width="1" height="67" fill="#c0c0c0"/>
<rect x="1049" y="426" width="1" height="61" fill="#c0c0c0"/>
<rect x="1057" y="432" width="1" height="55" fill="#c0c0c0"/>
<rect x="1065" y="438" width="1" height="49" fill="#c0c0c0"/>
<rect x="1073" y="447" width="1" height="40" fill="#c0c0c0"/>
<rect x="1081" y="451" width="1" height="36" fill="#c0c0c0"/>
<rect x="1089" y="454" width="1" height="33" fill="#c0c0c0"/>
<rect x="1097" y="457" width="1" height="30" fill="#c0c0c0"/>
<rect x="1105" y="456" width="1" height="31" fill="#c0c0c0"/>
<rect x="1113" y="455" width="1" height="32" fill="#c0c0c0"/>
<rect x="1121" y="452" width="1" height="35" fill="#c0c0c0"/>
<rect x="1129" y="446" width="1" height="41" fill="#c0c0c0"/>
<rect x="1137" y="443" width="1" height="44" fill="#c0c0c0"/>
<rect x="1145" y="442" width="1" height="45" fill="#c0c0c0"/>
<rect x="1153" y="438" width="1" height="49" fill="#c0c0c0"/>
<rect x="1161" y="439" width="1" height="48" fill="#c0c0c0"/>
<rect x="1169" y="439" width="1" height="48" fill="#c0c0c0"/>
<rect x="1177" y="440" width="1" height="47" fill="#c0c0c0"/>
<g stroke="#ff0000" stroke-width="1" fill="none">
<line x1="1" y1="476.6" x2="4.0" y2="475.2"/>
<line x1="7.0" y1="473.8" x2="12.0" y2="471.2"/>
<line x1="15.0" y1="469.6" x2="20.0" y2="466.7"/>
<line x1="23.0" y1="465.0" x2="28.0" y2="462.2"/>
<line x1="31.0" y1="460.6" x2="36.0" y2="458.1"/>
<line x1="39.0" y1="456.8" x2="44.0" y2="454.7"/>
<line x1="47.0" y1="453.6" x2="52.0" y2="451.6"/>
<line x1="55.0" y1="450.5" x2="60.0" y2="448.9"/>
<line x1="63.0" y1="448.2" x2="68.0" y2="447.4"/>
<line x1="71.0" y1="447.1" x2="76.0" y2="446.9"/>
<line x1="79.0" y1="446.9" x2="84.0" y2="447.2"/>
<line x1="87.0" y1="447.5" x2="92.0" y2="448.2"/>
<line x1="95.0" y1="448.7" x2="100.0" y2="449.3"/>
<line x1="103.0" y1="449.5" x2="108.0" y2="450.4"/>
<line x1="111.0" y1="451.1" x2="116.0" y2="452.3"/>
<line x1="119.0" y1="453.1" x2="124.0" y2="454.1"/>
<line x1="127.0" y1="454.6" x2="132.0" y2="455.4"/>
<line x1="135.0" y1="455.8" x2="140.0" y2="456.4"/>
<line x1="143.0" y1="456.7" x2="148.0" y2="456.9"/>
<line x1="151.0" y1="456.9" x2="156.0" y2="456.9"/>
<line x1="159.0" y1="456.9" x2="164.0" y2="456.9"/>
<line x1="167.0" y1="456.9" x2="172.0" y2="456.9"/>
<line x1="175.0" y1="456.9" x2="180.0" y2="457.1"/>
<line x1="183.0" y1="457.3" x2="188.0" y2="457.7"/>
<line x1="191.0" y1="458.0" x2="196.0" y2="458.6"/>
<line x1="199.0" y1="458.9" x2="204.0" y2="459.5"/>
<line x1="207.0" y1="459.8" x2="212.0" y2="460.3"/>
<line x1="215.0" y1="460.6" x2="220.0" y2="461.0"/>
<line x1="223.0" y1="461.2" x2="228.0" y2="461.5"/>
<line x1="231.0" y1="461.7" x2="236.0" y2="461.8"/>
<line x1="239.0" y1="461.8" x2="244.0" y2="461.8"/>
<line x1="247.0" y1="461.8" x2="252.0" y2="461.4"/>
<line x1="255.0" y1="461.1" x2="260.0" y2="460.5"/>
<line x1="263.0" y1="460.2" x2="268.0" y2="459.3"/>
<line x1="271.0" y1="458.6" x2="276.0" y2="457.7"/>
<line x1="279.0" y1="457.2" x2="284.0" y2="456.1"/>
<line x1="287.0" y1="455.4" x2="292.0" y2="454.1"/>
<line x1="295.0" y1="453.3" x2="300.0" y2="452.1"/>
<line x1="303.0" y1="451.4" x2="308.0" y2="450.2"/>
<line x1="311.0" y1="449.5" x2="316.0" y2="448.1"/>
<line x1="319.0" y1="447.3" x2="324.0" y2="446.4"/>
<line x1="327.0" y1="446.1" x2="332.0" y2="445.2"/>
<line x1="335.0" y1="444.6" x2="340.0" y2="444.1"/>
<line x1="343.0" y1="444.1" x2="348.0" y2="444.1"/>
<line x1="351.0" y1="444.1" x2="356.0" y2="444.1"/>
<line x1="359.0" y1="444.1" x2="364.0" y2="444.5"/>
<line x1="367.0" y1="444.9" x2="372.0" y2="445.4"/>
<line x1="375.0" y1="445.7" x2="380.0" y2="446.6"/>
<line x1="383.0" y1="447.2" x2="388.0" y2="448.4"/>
<line x1="391.0" y1="449.2" x2="396.0" y2="450.5"/>
<line x1="399.0" y1="451.3" x2="404.0" y2="453.0"/>
<line x1="407.0" y1="454.1" x2="412.0" y2="455.6"/>
<line x1="415.0" y1="456.4" x2="420.0" y2="457.6"/>
<line x1="423.0" y1="458.2" x2="428.0" y2="459.5"/>
<line x1="431.0" y1="460.3" x2="436.0" y2="461.7"/>
<line x1="439.0" y1="462.5" x2="444.0" y2="463.4"/>
<line x1="447.0" y1="463.6" x2="452.0" y2="463.8"/>
<line x1="455.0" y1="463.8" x2="460.0" y2="464.0"/>
<line x1="463.0" y1="464.2" x2="468.0" y2="464.6"/>
<line x1="471.0" y1="464.9" x2="476.0" y2="465.4"/>
<line x1="479.0" y1="465.7" x2="484.0" y2="466.3"/>
<line x1="487.0" y1="466.6" x2="492.0" y2="467.0"/>
<line x1="495.0" y1="467.1" x2="500.0" y2="467.9"/>
<line x1="503.0" y1="468.6" x2="508.0" y2="469.8"/>
<line x1="511.0" y1="470.5" x2="516.0" y2="471.7"/>
<line x1="519.0" y1="472.4" x2="524.0" y2="473.6"/>
<line x1="527.0" y1="474.4" x2="532.0" y2="475.3"/>
<line x1="535.0" y1="475.6" x2="540.0" y2="476.2"/>
<line x1="543.0" y1="476.4" x2="548.0" y2="476.8"/>
<line x1="551.0" y1="477.1" x2="556.0" y2="477.5"/>
<line x1="559.0" y1="477.7" x2="564.0" y2="478.9"/>
<line x1="567.0" y1="479.9" x2="572.0" y2="481.9"/>
<line x1="575.0" y1="483.4" x2="580.0" y2="485.8"/>
<line x1="583.0" y1="487.2" x2="588.0" y2="490.4"/>
<line x1="591.0" y1="492.6" x2="596.0" y2="496.7"/>
<line x1="599.0" y1="499.3" x2="604.0" y2="503.9"/>
<line x1="607.0" y1="506.8" x2="612.0" y2="511.8"/>
<line x1="615.0" y1="514.9" x2="620.0" y2="520.0"/>
<line x1="623.0" y1="523.2" x2="628.0" y2="528.4"/>
<line x1="631.0" y1="531.5" x2="636.0" y2="535.6"/>
<line x1="639.0" y1="537.7" x2="644.0" y2="541.1"/>
<line x1="647.0" y1="543.1" x2="652.0" y2="545.5"/>
<line x1="655.0" y1="546.5" x2="660.0" y2="547.4"/>
<line x1="663.0" y1="547.7" x2="668.0" y2="547.6"/>
<line x1="671.0" y1="547.3" x2="676.0" y2="545.9"/>
<line x1="679.0" y1="544.8" x2="684.0" y2="542.6"/>
<line x1="687.0" y1="541.2" x2="692.0" y2="538.5"/>
<line x1="695.0" y1="536.8" x2="700.0" y2="533.2"/>
<line x1="703.0" y1="530.8" x2="708.0" y2="527.2"/>
<line x1="711.0" y1="525.3" x2="716.0" y2="521.8"/>
<line x1="719.0" y1="519.7" x2="724.0" y2="516.5"/>
<line x1="727.0" y1="514.9" x2="732.0" y2="513.0"/>
<line x1="735.0" y1="512.2" x2="740.0" y2="511.5"/>
<line x1="743.0" y1="511.3" x2="748.0" y2="511.2"/>
<line x1="751.0" y1="511.2" x2="756.0" y2="511.4"/>
<line x1="759.0" y1="511.6" x2="764.0" y2="511.7"/>
<line x1="767.0" y1="511.7" x2="772.0" y2="511.5"/>
<line x1="775.0" y1="511.3" x2="780.0" y2="511.0"/>
<line x1="783.0" y1="510.8" x2="788.0" y2="510.5"/>
<line x1="791.0" y1="510.3" x2="796.0" y2="510.1"/>
<line x1="799.0" y1="510.1" x2="804.0" y2="510.0"/>
<line x1="807.0" y1="510.0" x2="812.0" y2="510.0"/>
<line x1="815.0" y1="510.0" x2="820.0" y2="510.1"/>
<line x1="823.0" y1="510.1" x2="828.0" y2="510.4"/>
<line x1="831.0" y1="510.6" x2="836.0" y2="510.9"/>
<line x1="839.0" y1="511.1" x2="844.0" y2="512.5"/>
<line x1="847.0" y1="513.8" x2="852.0" y2="515.5"/>
<line x1="855.0" y1="516.5" x2="860.0" y2="518.1"/>
<line x1="863.0" y1="519.1" x2="868.0" y2="520.2"/>
<line x1="871.0" y1="520.7" x2="876.0" y2="520.9"/>
<line x1="879.0" y1="520.8" x2="884.0" y2="520.0"/>
<line x1="887.0" y1="519.4" x2="892.0" y2="517.7"/>
<line x1="895.0" y1="516.4" x2="900.0" y2="514.0"/>
<line x1="903.0" y1="512.3" x2="908.0" y2="509.1"/>
<line x1="911.0" y1="507.0" x2="916.0" y2="503.4"/>
<line x1="919.0" y1="501.2" x2="924.0" y2="497.3"/>
<line x1="927.0" y1="494.9" x2="932.0" y2="490.9"/>
<line x1="935.0" y1="488.5" x2="940.0" y2="484.3"/>
<line x1="943.0" y1="481.7" x2="948.0" y2="477.1"/>
<line x1="951.0" y1="474.2" x2="956.0" y2="469.4"/>
<line x1="959.0" y1="466.5" x2="964.0" y2="461.9"/>
<line x1="967.0" y1="459.2" x2="972.0" y2="454.8"/>
<line x1="975.0" y1="452.2" x2="980.0" y2="448.0"/>
<line x1="983.0" y1="445.5" x2="988.0" y2="441.2"/>
<line x1="991.0" y1="438.6" x2="996.0" y2="434.5"/>
<line x1="999.0" y1="432.1" x2="1004.0" y2="428.4"/>
<line x1="1007.0" y1="426.3" x2="1012.0" y2="423.4"/>
<line x1="1015.0" y1="421.8" x2="1020.0" y2="419.3"/>
<line x1="1023.0" y1="417.9" x2="1028.0" y2="416.3"/>
<line x1="1031.0" y1="415.6" x2="1036.0" y2="414.9"/>
<line x1="1039.0" y1="414.6" x2="1044.0" y2="414.4"/>
<line x1="1047.0" y1="414.4" x2="1052.0" y2="415.0"/>
<line x1="1055.0" y1="415.5" x2="1060.0" y2="417.2"/>
<line x1="1063.0" y1="418.6" x2="1068.0" y2="421.0"/>
<line x1="1071.0" y1="422.4" x2="1076.0" y2="424.9"/>
<line x1="1079.0" y1="426.5" x2="1084.0" y2="429.3"/>
<line x1="1087.0" y1="431.1" x2="1092.0" y2="434.0"/>
<line x1="1095.0" y1="435.8" x2="1100.0" y2="438.4"/>
<line x1="1103.0" y1="439.8" x2="1108.0" y2="442.4"/>
<line x1="1111.0" y1="444.0" x2="1116.0" y2="446.6"/>
<line x1="1119.0" y1="448.0" x2="1124.0" y2="449.8"/>
<line x1="1127.0" y1="450.5" x2="1132.0" y2="451.0"/>
<line x1="1135.0" y1="451.0" x2="1140.0" y2="450.9"/>
<line x1="1143.0" y1="450.9" x2="1148.0" y2="450.1"/>
<line x1="1151.0" y1="449.4" x2="1156.0" y2="448.1"/>
<line x1="1159.0" y1="447.3" x2="1164.0" y2="446.4"/>
<line x1="1167.0" y1="446.1" x2="1172.0" y2="445.1"/>
<line x1="1175.0" y1="444.3" x2="1177.5" y2="443.7"/>
</g>
<rect x="1197" y="402" width="1" height="1" fill="#000000"/>
<text x="1199.7" y="411.0" fill="#000" stroke="#000" stroke-width="0.15" font-size="10.2" textLength="32.17" lengthAdjust="spacingAndGlyphs" text-anchor="start" xml:space="preserve">23.9013</text>
<rect x="1197" y="486" width="1" height="1" fill="#000000"/>
<text x="1199.7" y="490.0" fill="#000" stroke="#000" stroke-width="0.15" font-size="10.2" textLength="17.13" lengthAdjust="spacingAndGlyphs" text-anchor="start" xml:space="preserve">0.00</text>
<rect x="1197" y="562" width="1" height="1" fill="#000000"/>
<text x="1199.7" y="560.0" fill="#000" stroke="#000" stroke-width="0.15" font-size="10.2" textLength="34.74" lengthAdjust="spacingAndGlyphs" text-anchor="start" xml:space="preserve">-21.4936</text>
<text x="5" y="578.0" fill="#000" stroke="#000" stroke-width="0.15" font-size="10.2" textLength="66.99" lengthAdjust="spacingAndGlyphs" text-anchor="start" xml:space="preserve">RSI(14) 63.1105</text>
<line x1="2" y1="598.5" x2="1196" y2="598.5" stroke="#c0c0c0" stroke-width="1" stroke-dasharray="3 3"/>
<line x1="2" y1="641.5" x2="1196" y2="641.5" stroke="#c0c0c0" stroke-width="1" stroke-dasharray="3 3"/>
<polyline points="1.5,606.1 9.5,604.8 17.5,604.8 25.5,602.7 33.5,600.9 41.5,600.9 49.5,600.9 57.5,603.5 65.5,611.7 73.5,616.8 81.5,615.8 89.5,611.9 97.5,611.9 105.5,613.0 113.5,609.9 121.5,606.1 129.5,600.9 137.5,606.1 145.5,609.1 153.5,607.9 161.5,610.7 169.5,609.9 177.5,615.8 185.5,614.5 193.5,610.7 201.5,609.9 209.5,602.7 217.5,609.1 225.5,606.1 233.5,606.8 241.5,604.8 249.5,600.9 257.5,601.7 265.5,599.7 273.5,593.8 281.5,595.8 289.5,594.5 297.5,592.7 305.5,594.5 313.5,593.8 321.5,595.8 329.5,593.8 337.5,595.8 345.5,601.7 353.5,601.7 361.5,601.7 369.5,599.7 377.5,603.5 385.5,619.6 393.5,615.8 401.5,615.8 409.5,611.7 417.5,608.6 425.5,611.7 433.5,600.9 441.5,601.7 449.5,602.7 457.5,604.3 465.5,609.4 473.5,624.8 481.5,623.5 489.5,620.1 497.5,618.9 505.5,627.8 513.5,615.5 521.5,610.7 529.5,613.7 537.5,612.5 545.5,608.6 553.5,621.4 561.5,635.5 569.5,636.0 577.5,646.5 585.5,642.4 593.5,644.0 601.5,647.6 609.5,647.6 617.5,645.0 625.5,645.8 633.5,644.0 641.5,635.5 649.5,636.8 657.5,624.8 665.5,621.9 673.5,623.5 681.5,616.8 689.5,619.6 697.5,616.8 705.5,619.6 713.5,619.6 721.5,625.3 729.5,633.7 737.5,636.8 745.5,633.7 753.5,636.8 761.5,624.0 769.5,613.7 777.5,613.0 785.5,617.6 793.5,621.4 801.5,630.4 809.5,634.2 817.5,636.0 825.5,633.7 833.5,627.8 841.5,627.8 849.5,629.9 857.5,621.9 865.5,624.0 873.5,627.8 881.5,618.9 889.5,615.5 897.5,612.5 905.5,607.9 913.5,606.1 921.5,609.9 929.5,609.9 937.5,610.7 945.5,602.2 953.5,601.7 961.5,600.2 969.5,598.9 977.5,595.8 985.5,594.5 993.5,596.6 1001.5,602.7 1009.5,601.7 1017.5,599.7 1025.5,603.5 1033.5,604.8 1041.5,609.4 1049.5,609.9 1057.5,613.7 1065.5,615.0 1073.5,622.7 1081.5,614.5 1089.5,615.8 1097.5,615.8 1105.5,609.9 1113.5,607.9 1121.5,604.8 1129.5,600.9 1137.5,601.7 1145.5,603.0 1153.5,598.9 1161.5,606.8 1169.5,605.5 1177.5,606.8" fill="none" stroke="#1e90ff" stroke-width="1"/>
<rect x="1197" y="567" width="1" height="1" fill="#000000"/>
<text x="1200.0" y="576.0" fill="#000" stroke="#000" stroke-width="0.15" font-size="10.2" textLength="15.02" lengthAdjust="spacingAndGlyphs" text-anchor="start" xml:space="preserve">100</text>
<text x="1199.0" y="602.0" fill="#000" stroke="#000" stroke-width="0.15" font-size="10.2" textLength="10.01" lengthAdjust="spacingAndGlyphs" text-anchor="start" xml:space="preserve">70</text>
<text x="1198.6" y="645.0" fill="#000" stroke="#000" stroke-width="0.15" font-size="10.2" textLength="10.01" lengthAdjust="spacingAndGlyphs" text-anchor="start" xml:space="preserve">30</text>
<text x="1199.4" y="670.0" fill="#000" stroke="#000" stroke-width="0.15" font-size="10.2" textLength="5.01" lengthAdjust="spacingAndGlyphs" text-anchor="start" xml:space="preserve">0</text>
<rect x="1197" y="672" width="1" height="1" fill="#000000"/>
<rect x="1" y="674" width="1" height="3" fill="#000000"/>
<text x="-0.6" y="686.0" fill="#000" stroke="#000" stroke-width="0.15" font-size="10.2" textLength="45.03" lengthAdjust="spacingAndGlyphs" text-anchor="start" xml:space="preserve">9 Jan 2020</text>
<rect x="65" y="674" width="1" height="3" fill="#000000"/>
<text x="64.5" y="686.0" fill="#000" stroke="#000" stroke-width="0.15" font-size="10.2" textLength="52.62" lengthAdjust="spacingAndGlyphs" text-anchor="start" xml:space="preserve">10 Jan 16:00</text>
<rect x="129" y="674" width="1" height="3" fill="#000000"/>
<text x="128.5" y="686.0" fill="#000" stroke="#000" stroke-width="0.15" font-size="10.2" textLength="52.62" lengthAdjust="spacingAndGlyphs" text-anchor="start" xml:space="preserve">13 Jan 20:00</text>
<rect x="193" y="674" width="1" height="3" fill="#000000"/>
<text x="192.5" y="686.0" fill="#000" stroke="#000" stroke-width="0.15" font-size="10.2" textLength="52.62" lengthAdjust="spacingAndGlyphs" text-anchor="start" xml:space="preserve">15 Jan 04:00</text>
<rect x="257" y="674" width="1" height="3" fill="#000000"/>
<text x="256.5" y="686.0" fill="#000" stroke="#000" stroke-width="0.15" font-size="10.2" textLength="52.62" lengthAdjust="spacingAndGlyphs" text-anchor="start" xml:space="preserve">16 Jan 12:00</text>
<rect x="321" y="674" width="1" height="3" fill="#000000"/>
<text x="320.5" y="686.0" fill="#000" stroke="#000" stroke-width="0.15" font-size="10.2" textLength="52.62" lengthAdjust="spacingAndGlyphs" text-anchor="start" xml:space="preserve">17 Jan 20:00</text>
<rect x="385" y="674" width="1" height="3" fill="#000000"/>
<text x="383.2" y="686.0" fill="#000" stroke="#000" stroke-width="0.15" font-size="10.2" textLength="52.62" lengthAdjust="spacingAndGlyphs" text-anchor="start" xml:space="preserve">21 Jan 00:00</text>
<rect x="449" y="674" width="1" height="3" fill="#000000"/>
<text x="447.2" y="686.0" fill="#000" stroke="#000" stroke-width="0.15" font-size="10.2" textLength="52.62" lengthAdjust="spacingAndGlyphs" text-anchor="start" xml:space="preserve">22 Jan 08:00</text>
<rect x="513" y="674" width="1" height="3" fill="#000000"/>
<text x="511.2" y="686.0" fill="#000" stroke="#000" stroke-width="0.15" font-size="10.2" textLength="52.62" lengthAdjust="spacingAndGlyphs" text-anchor="start" xml:space="preserve">23 Jan 16:00</text>
<rect x="577" y="674" width="1" height="3" fill="#000000"/>
<text x="575.2" y="686.0" fill="#000" stroke="#000" stroke-width="0.15" font-size="10.2" textLength="52.62" lengthAdjust="spacingAndGlyphs" text-anchor="start" xml:space="preserve">26 Jan 23:00</text>
<rect x="641" y="674" width="1" height="3" fill="#000000"/>
<text x="639.2" y="686.0" fill="#000" stroke="#000" stroke-width="0.15" font-size="10.2" textLength="52.62" lengthAdjust="spacingAndGlyphs" text-anchor="start" xml:space="preserve">28 Jan 04:00</text>
<rect x="705" y="674" width="1" height="3" fill="#000000"/>
<text x="703.2" y="686.0" fill="#000" stroke="#000" stroke-width="0.15" font-size="10.2" textLength="52.62" lengthAdjust="spacingAndGlyphs" text-anchor="start" xml:space="preserve">29 Jan 12:00</text>
<rect x="769" y="674" width="1" height="3" fill="#000000"/>
<text x="767.2" y="686.0" fill="#000" stroke="#000" stroke-width="0.15" font-size="10.2" textLength="52.62" lengthAdjust="spacingAndGlyphs" text-anchor="start" xml:space="preserve">30 Jan 20:00</text>
<rect x="833" y="674" width="1" height="3" fill="#000000"/>
<text x="831.8" y="686.0" fill="#000" stroke="#000" stroke-width="0.15" font-size="10.2" textLength="49.90" lengthAdjust="spacingAndGlyphs" text-anchor="start" xml:space="preserve">3 Feb 00:00</text>
<rect x="897" y="674" width="1" height="3" fill="#000000"/>
<text x="895.8" y="686.0" fill="#000" stroke="#000" stroke-width="0.15" font-size="10.2" textLength="49.90" lengthAdjust="spacingAndGlyphs" text-anchor="start" xml:space="preserve">4 Feb 08:00</text>
<rect x="961" y="674" width="1" height="3" fill="#000000"/>
<text x="959.8" y="686.0" fill="#000" stroke="#000" stroke-width="0.15" font-size="10.2" textLength="49.90" lengthAdjust="spacingAndGlyphs" text-anchor="start" xml:space="preserve">5 Feb 16:00</text>
<rect x="1025" y="674" width="1" height="3" fill="#000000"/>
<text x="1023.8" y="686.0" fill="#000" stroke="#000" stroke-width="0.15" font-size="10.2" textLength="49.90" lengthAdjust="spacingAndGlyphs" text-anchor="start" xml:space="preserve">7 Feb 00:00</text>
<rect x="1089" y="674" width="1" height="3" fill="#000000"/>
<text x="1088.5" y="686.0" fill="#000" stroke="#000" stroke-width="0.15" font-size="10.2" textLength="53.63" lengthAdjust="spacingAndGlyphs" text-anchor="start" xml:space="preserve">10 Feb 04:00</text>
<rect x="1153" y="674" width="1" height="3" fill="#000000"/>
<text x="1152.5" y="686.0" fill="#000" stroke="#000" stroke-width="0.15" font-size="10.2" textLength="53.63" lengthAdjust="spacingAndGlyphs" text-anchor="start" xml:space="preserve">11 Feb 12:00</text>
</svg>
</body></html>
